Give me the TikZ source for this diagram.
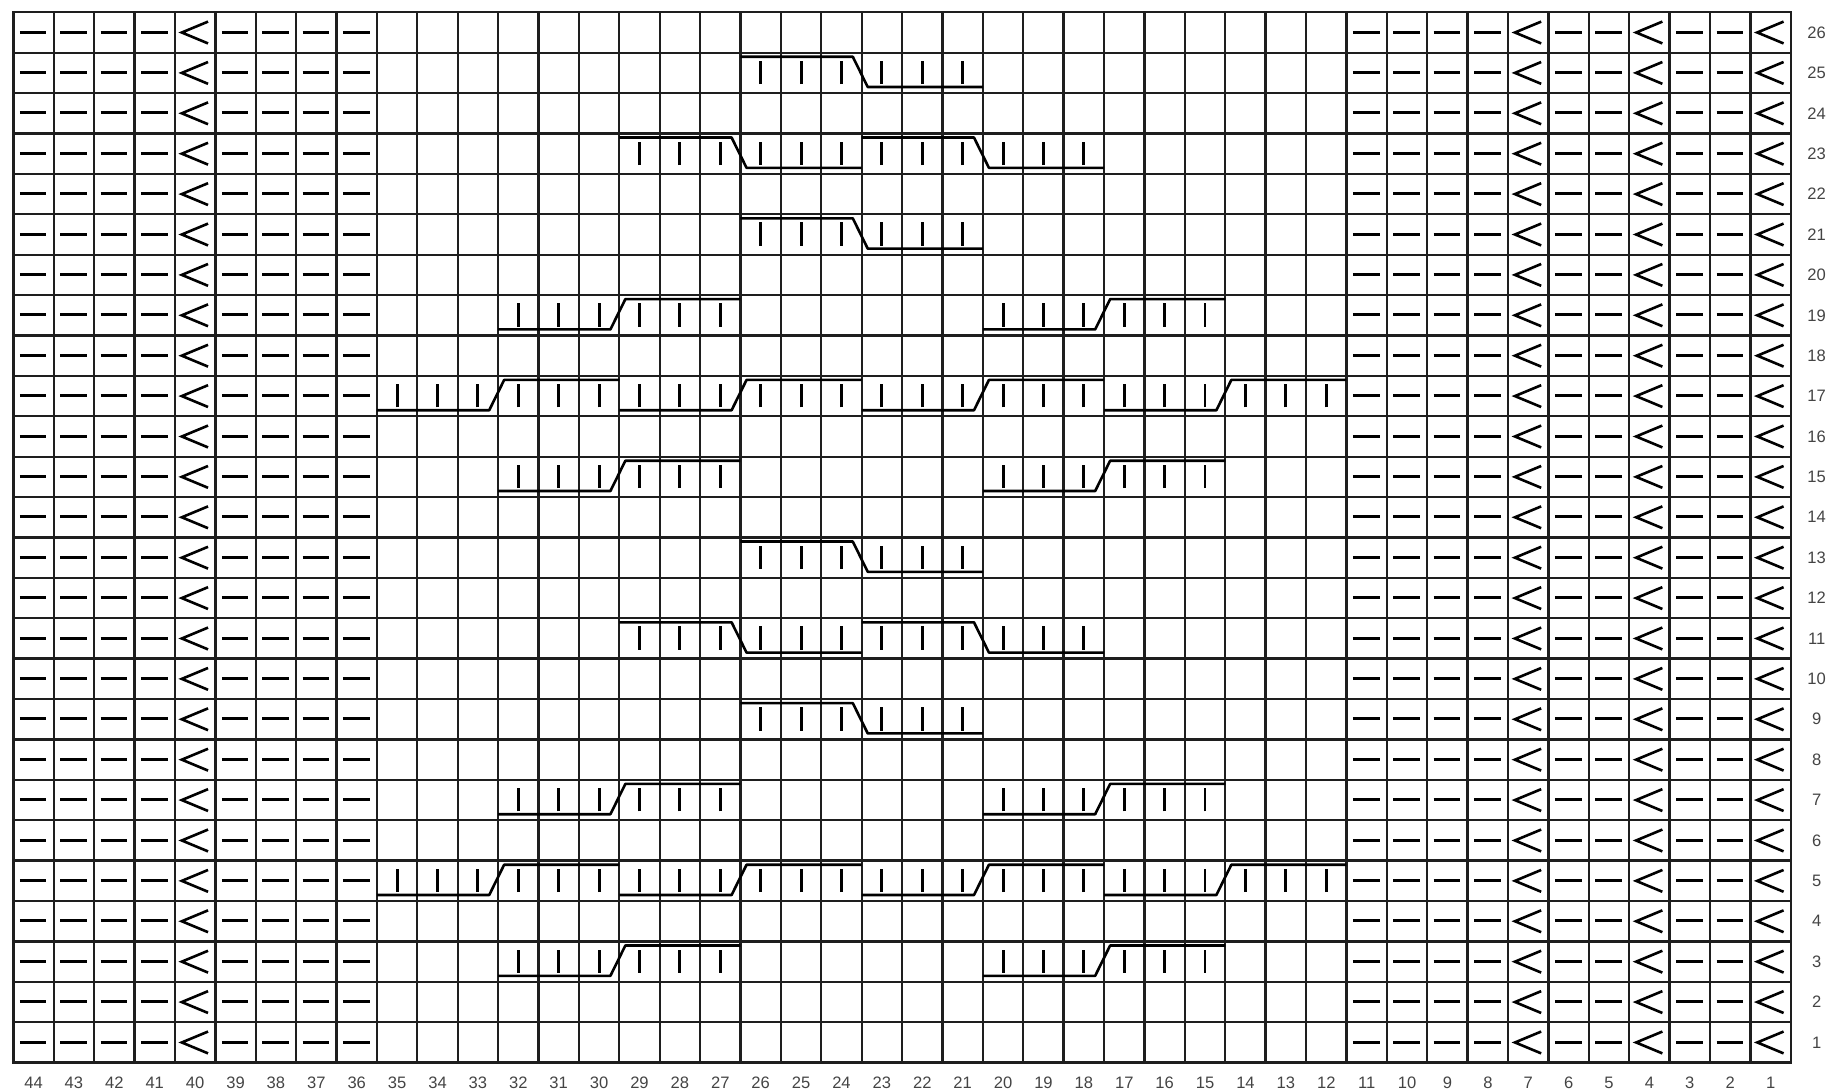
\documentclass[tikz,border=0pt]{standalone}
\usepackage{fontspec}
\setmainfont{Liberation Sans}
\definecolor{chgrid}{HTML}{1E1E1E}
\definecolor{chnum}{HTML}{444444}
\tikzset{
  grd/.style  ={draw=chgrid, line width=1pt},
  prl/.style  ={draw=black, line width=1.3pt},
  dec/.style  ={draw=black, line width=1.1pt, line join=miter},
  cbl/.style  ={draw=black, line width=1.1pt, line join=round},
  tck/.style  ={draw=black, line width=1.2pt},
  num/.style  ={font=\fontsize{7}{8}\selectfont, text=chnum, inner sep=0pt}
}
% cable over 6 stitches: #1 = leftmost stitch number, #2 = row
\newcommand{\cabup}[2]{%
  \pgfmathsetmacro{\cx}{44-#1}\pgfmathsetmacro{\cy}{#2-1}
  \draw[cbl] (\cx,\cy+0.15) -- (\cx+2.78,\cy+0.15) -- (\cx+3.15,\cy+0.9) -- (\cx+6,\cy+0.9);
  \foreach \k in {0,...,5} \draw[tck] (\cx+\k+0.5,\cy+0.22) -- (\cx+\k+0.5,\cy+0.8);
}
\newcommand{\cabdn}[2]{%
  \pgfmathsetmacro{\cx}{44-#1}\pgfmathsetmacro{\cy}{#2-1}
  \draw[cbl] (\cx,\cy+0.9) -- (\cx+2.78,\cy+0.9) -- (\cx+3.15,\cy+0.15) -- (\cx+6,\cy+0.15);
  \foreach \k in {0,...,5} \draw[tck] (\cx+\k+0.5,\cy+0.22) -- (\cx+\k+0.5,\cy+0.8);
}

\begin{document}
\begin{tikzpicture}[x=0.6cm, y=0.6cm]
  \useasboundingbox (-0.33,-0.725) rectangle (44.97,26.305);
  \foreach \i in {0,...,44} \draw[grd] (\i,0) -- (\i,26);
  \foreach \r in {0,...,26} \draw[grd] (0,\r) -- (44,\r);
  \draw[grd] (0,0) rectangle (44,26);

  \foreach \r in {0,...,25} {
    \foreach \i in {0,1,2,3,5,6,7,8,33,34,35,36,38,39,41,42}
      \draw[prl] (\i+0.16,\r+0.51) -- (\i+0.82,\r+0.51);
    \foreach \i in {4,37,40,43}
      \draw[dec] (\i+0.82,\r+0.77) -- (\i+0.17,\r+0.5) -- (\i+0.82,\r+0.23);
  }

  \foreach \c/\r in {32/3,20/3,35/5,29/5,23/5,17/5,32/7,20/7,
                     32/15,20/15,35/17,29/17,23/17,17/17,32/19,20/19}
    \cabup{\c}{\r};
  \foreach \c/\r in {26/9,29/11,23/11,26/13,26/21,29/23,23/23,26/25}
    \cabdn{\c}{\r};

  \foreach \c in {1,...,44} \node[num] (c\c) at (44-\c+0.5,-0.49) {\c};
  \foreach \r in {1,...,26} \node[num] (r\r) at (44.64,\r-0.5) {\r};
\end{tikzpicture}
\end{document}
